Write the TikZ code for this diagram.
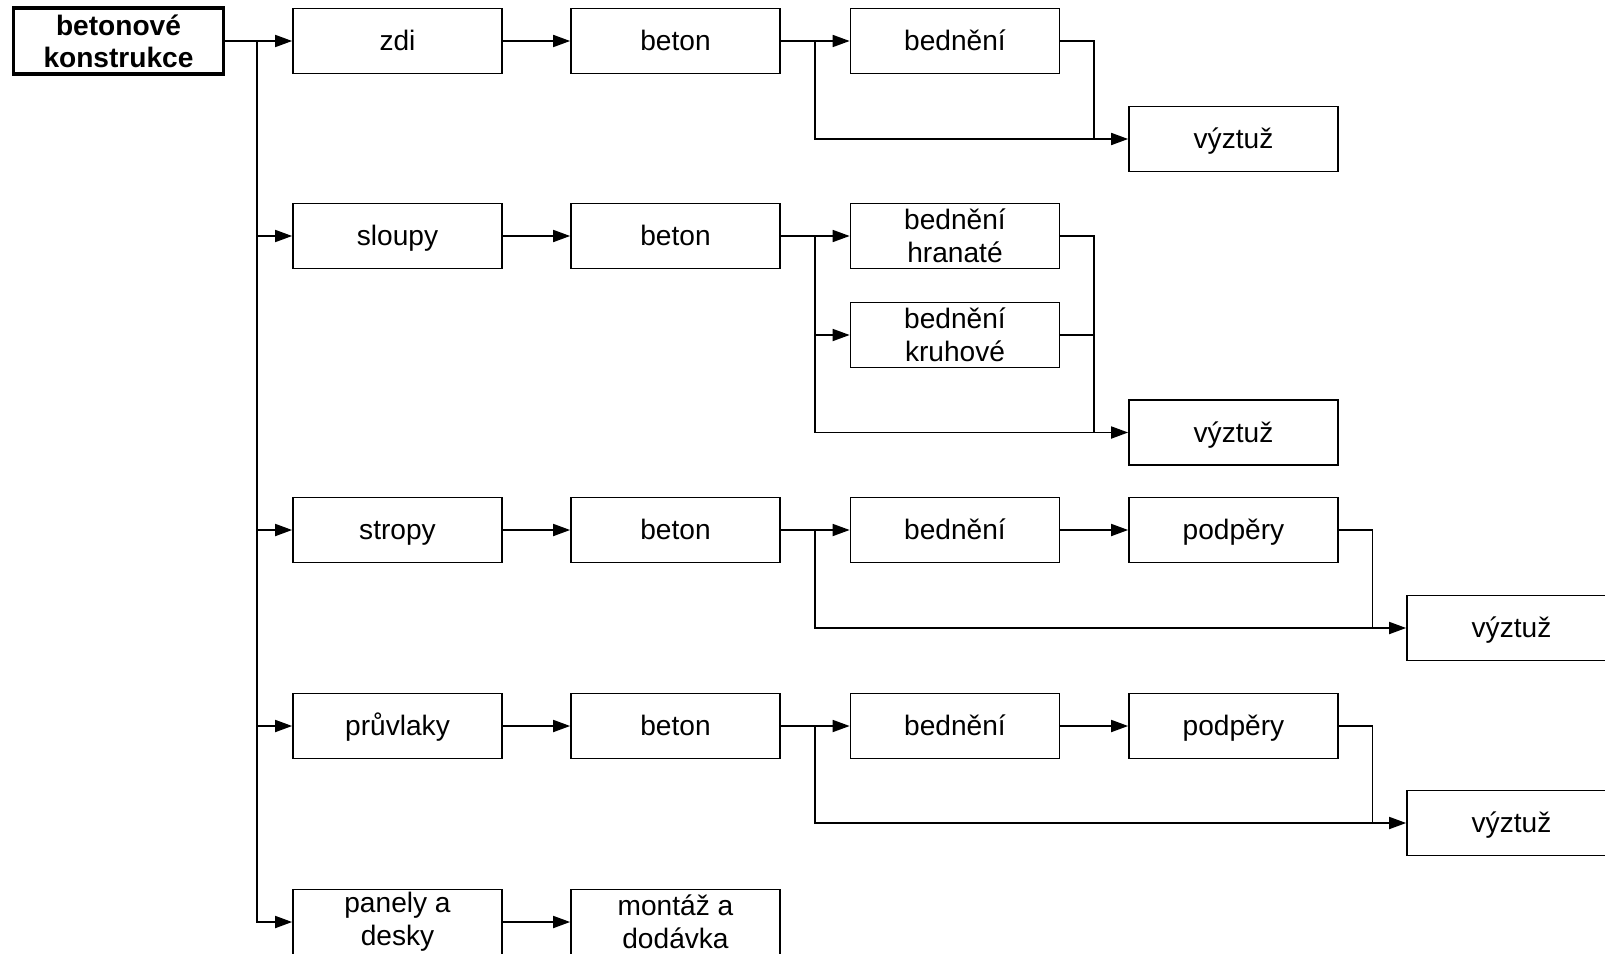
\documentclass[tikz,border=0pt]{standalone}
\usepackage{fontspec}
\setmainfont{Liberation Sans}
\usetikzlibrary{arrows.meta}

\tikzset{
    basebox/.style={draw, line width=1pt, minimum width=4.18cm, minimum height=1.3cm,
        inner sep=0pt, align=center, font=\fontsize{16pt}{18.8pt}\selectfont},
    box/.style={basebox, text height=13pt, text depth=2pt},
    twobox/.style={basebox},
    rootbox/.style={basebox, line width=1.8pt, minimum width=4.2cm, minimum height=1.32cm,
        font=\fontsize{16pt}{18.2pt}\selectfont\bfseries},
    arr/.style={line width=1pt, -{Triangle[length=3.4mm, width=2.4mm]}},
    ln/.style={line width=1pt}
}

\begin{document}
\begin{tikzpicture}[x=0.02cm, y=-0.02cm]
        \useasboundingbox (0, 0) rectangle (1605, 953);
        % boxes
        \node[rootbox] (root) at (118.5, 41) {betonové\\konstrukce};
        \node[box] (zdi) at (397.5, 41) {zdi};
        \node[box] (sloupy) at (397.5, 236) {sloupy};
        \node[box] (stropy) at (397.5, 530) {stropy};
        \node[box] (pruvlaky) at (397.5, 726) {průvlaky};
        \node[twobox] (panely) at (397.5, 922) {panely a\\desky};
        \node[box] (betonA) at (675.5, 41) {beton};
        \node[box] (betonB) at (675.5, 236) {beton};
        \node[box] (betonC) at (675.5, 530) {beton};
        \node[box] (betonD) at (675.5, 726) {beton};
        \node[twobox] (montaz) at (675.5, 922) {montáž a\\dodávka};
        \node[box] (bedneniA) at (955, 41) {bednění};
        \node[twobox] (hranate) at (955, 236) {bednění\\hranaté};
        \node[twobox] (kruhove) at (955, 335) {bednění\\kruhové};
        \node[box] (bedneniC) at (955, 530) {bednění};
        \node[box] (bedneniD) at (955, 726) {bednění};
        \node[box] (podperyC) at (1233.5, 530) {podpěry};
        \node[box] (podperyD) at (1233.5, 726) {podpěry};
        \node[box] (vyztuzA) at (1233.5, 139) {výztuž};
        \node[box] (vyztuzB) at (1233.5, 432.5) {výztuž};
        \node[box] (vyztuzC) at (1511.5, 628) {výztuž};
        \node[box] (vyztuzD) at (1511.5, 823) {výztuž};
        % branch points
        \coordinate (trunk) at (257, 41);
        \coordinate (splitA) at (815, 41);
        \coordinate (splitB) at (815, 236);
        \coordinate (splitC) at (815, 530);
        \coordinate (splitD) at (815, 726);
        \coordinate (joinA) at (1094, 139);
        \coordinate (joinB) at (1094, 432.5);
        \coordinate (joinC) at (1372.5, 628);
        \coordinate (joinD) at (1372.5, 823);
        % trunk
        \draw[ln] (root.east) -- (trunk);
        \draw[arr] (trunk) -- (zdi.west);
        \draw[arr] (trunk) |- (sloupy.west);
        \draw[arr] (trunk) |- (stropy.west);
        \draw[arr] (trunk) |- (pruvlaky.west);
        \draw[arr] (trunk) |- (panely.west);
        \draw[arr] (zdi) -- (betonA);
        \draw[arr] (sloupy) -- (betonB);
        \draw[arr] (stropy) -- (betonC);
        \draw[arr] (pruvlaky) -- (betonD);
        \draw[arr] (panely) -- (montaz);
        % zdi
        \draw[ln] (betonA.east) -- (splitA);
        \draw[arr] (splitA) -- (bedneniA.west);
        \draw[arr] (splitA) |- (vyztuzA.west);
        \draw[ln] (bedneniA.east) -| (joinA);
        % sloupy
        \draw[ln] (betonB.east) -- (splitB);
        \draw[arr] (splitB) -- (hranate.west);
        \draw[arr] (splitB) |- (kruhove.west);
        \draw[arr] (splitB) |- (vyztuzB.west);
        \draw[ln] (hranate.east) -| (joinB);
        \draw[ln] (kruhove.east) -| (joinB);
        % stropy
        \draw[ln] (betonC.east) -- (splitC);
        \draw[arr] (splitC) -- (bedneniC.west);
        \draw[arr] (bedneniC) -- (podperyC);
        \draw[arr] (splitC) |- (vyztuzC.west);
        \draw[ln] (podperyC.east) -| (joinC);
        % pruvlaky
        \draw[ln] (betonD.east) -- (splitD);
        \draw[arr] (splitD) -- (bedneniD.west);
        \draw[arr] (bedneniD) -- (podperyD);
        \draw[arr] (splitD) |- (vyztuzD.west);
        \draw[ln] (podperyD.east) -| (joinD);
    \end{tikzpicture}
\end{document}
